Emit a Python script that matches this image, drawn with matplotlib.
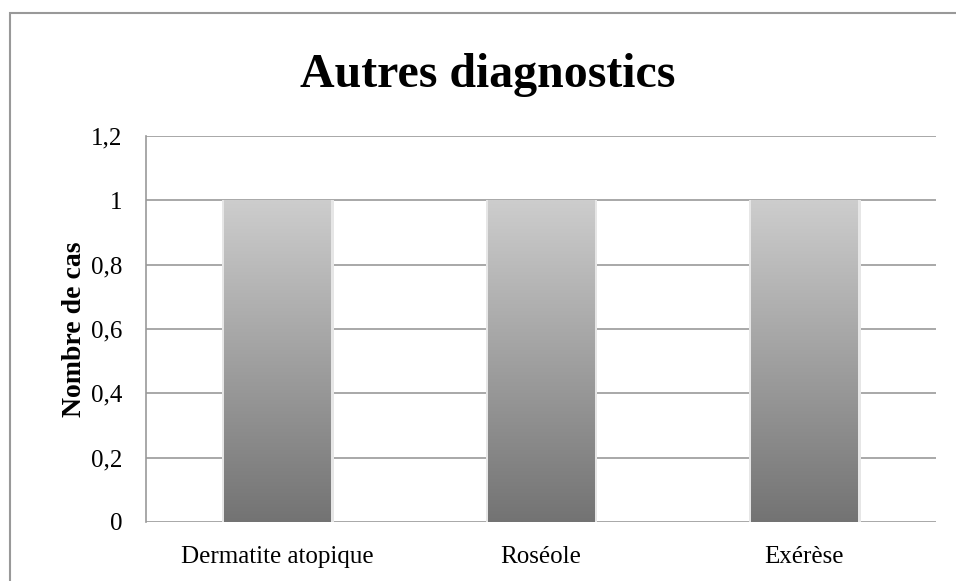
import matplotlib.pyplot as plt
import numpy as np
from matplotlib.patches import Rectangle
from matplotlib.colors import LinearSegmentedColormap

categories = ["Dermatite atopique", "Roséole", "Exérèse"]
values = [1, 1, 1]
yticks = [0, 0.2, 0.4, 0.6, 0.8, 1.0, 1.2]
ytick_labels = ["0", "0,2", "0,4", "0,6", "0,8", "1", "1,2"]

plt.rcParams["font.family"] = ["Liberation Serif", "DejaVu Serif"]

fig = plt.figure(figsize=(9.56, 5.81), dpi=100)
fig.patch.set_facecolor("white")

# outer chart border (right/bottom edges run off the image)
fig.add_artist(Rectangle((10 / 956, -0.1), 1.2, (1 - 13 / 581) + 0.1,
                         transform=fig.transFigure, fill=False,
                         edgecolor="#999999", linewidth=1.5))

ax = fig.add_axes([146 / 956, 1 - 522 / 581, (936 - 146) / 956, (522 - 136) / 581])

# horizontal gridlines
for t in yticks:
    ax.axhline(t, color="#999999", linewidth=1.2, zorder=1)

# gradient bars: light on top, dark at the bottom
bar_cmap = LinearSegmentedColormap.from_list("bar", ["#737373", "#cdcdcd"])
grad = np.linspace(0, 1, 256).reshape(-1, 1)
bar_w = 0.405
for i, v in enumerate(values):
    # faint soft shadow around the bar
    ax.add_patch(Rectangle((i - bar_w / 2 - 0.008, 0), bar_w + 0.02, v,
                           facecolor="#e6e6e6", edgecolor="none", zorder=1.5))
    ax.imshow(grad, cmap=bar_cmap, aspect="auto",
              extent=(i - bar_w / 2, i + bar_w / 2, 0, v), origin="lower",
              zorder=2, interpolation="bilinear")
ax.set_xlim(-0.5, len(categories) - 0.5)
ax.set_ylim(0, 1.2)

for s in ["top", "right", "bottom"]:
    ax.spines[s].set_visible(False)
ax.spines["left"].set_color("#999999")
ax.spines["left"].set_linewidth(1.2)

ax.set_yticks(yticks)
ax.set_yticklabels(ytick_labels)
ax.set_xticks(range(len(categories)))
ax.set_xticklabels(categories)
ax.tick_params(axis="both", length=0, labelsize=18)
ax.tick_params(axis="y", pad=17)
ax.tick_params(axis="x", pad=17)

ax.set_ylabel("Nombre de cas", fontsize=20, fontweight="bold", labelpad=3)

fig.text(0.5 + 0.01, 1 - 75 / 581, "Autres diagnostics", ha="center", va="center",
         fontsize=34.5, fontweight="bold")

fig.savefig("out.png", dpi=100, facecolor="white")
